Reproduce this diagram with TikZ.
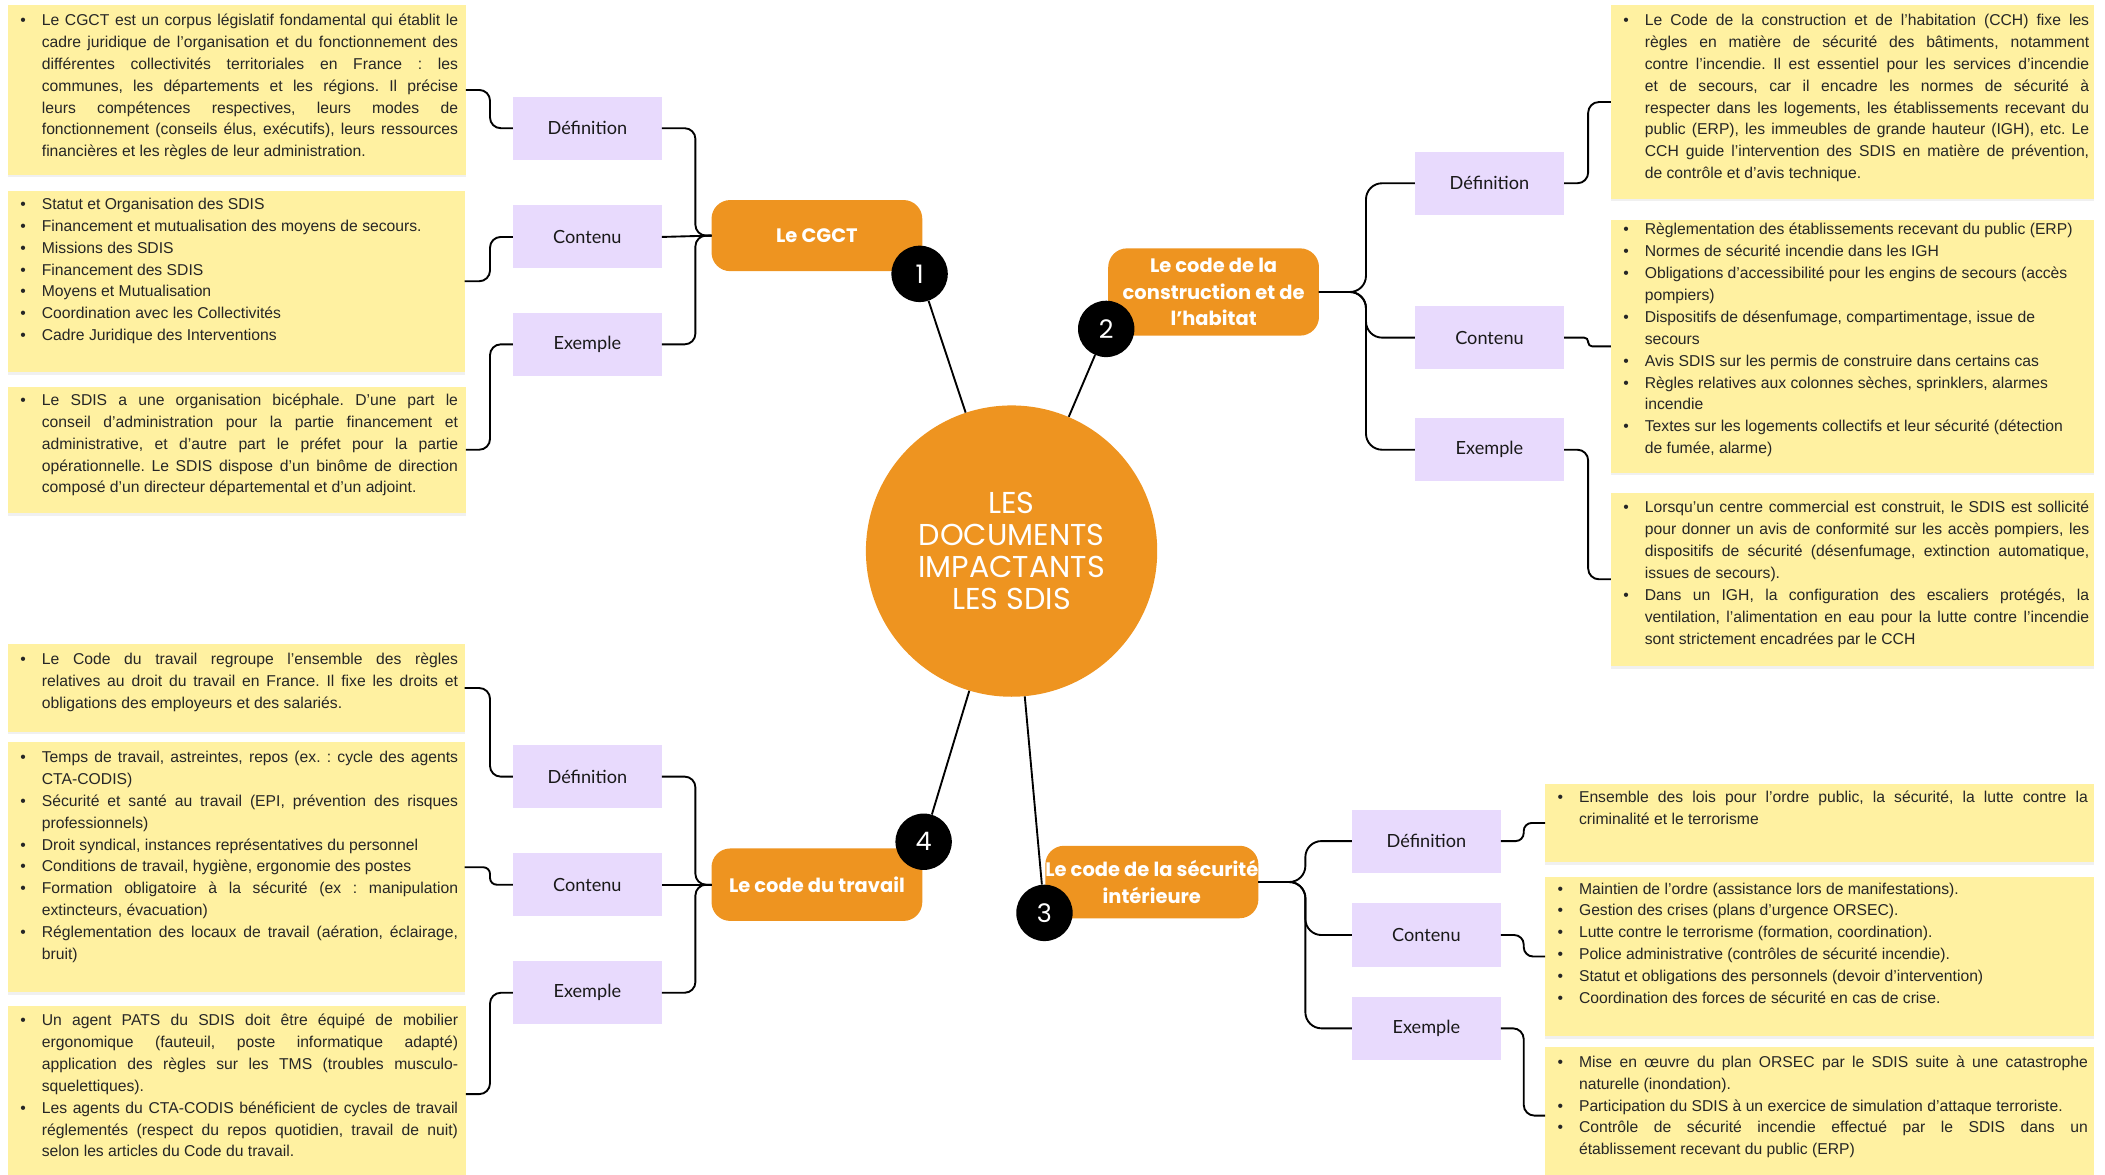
\documentclass[tikz,border=0pt]{standalone}
\usepackage{fontspec}
\setmainfont{Liberation Sans}
\newfontfamily\labfont{Lato}
\newfontfamily\titfont{Poppins}
\usetikzlibrary{shadows}
\definecolor{yfill}{RGB}{255,241,161}
\definecolor{pfill}{RGB}{232,218,253}
\definecolor{ofill}{RGB}{238,148,32}
\newcommand\bitem[1]{\par\hangindent=16pt\hangafter=1\noindent\makebox[16pt][l]{\textbullet}#1}
\newcommand\ytxt[2]{\parbox[t]{#1pt}{\fontsize{11.7pt}{16.3pt}\selectfont\frenchspacing\hyphenpenalty=10000\tolerance=10000 #2}}
\begin{document}
\begin{tikzpicture}[x=1pt,y=-1pt,
  conn/.style={draw=black, line width=1.4pt, rounded corners=#1},
  conn/.default=8pt,
  ybox/.style={fill=yfill, inner sep=0pt, outer sep=0pt, anchor=north west, drop shadow={shadow xshift=0pt, shadow yshift=-2pt, opacity=0.12}},
  ytext/.style={inner sep=0pt, anchor=base west, text=black!85},
  pbox/.style={fill=pfill, inner sep=0pt, outer sep=0pt, minimum width=111pt, minimum height=47pt, font=\labfont\fontsize{13.5pt}{16pt}\selectfont, text=black!90},
  obox/.style={fill=ofill, rounded corners=14pt, inner sep=0pt, outer sep=0pt, minimum width=157pt, align=center, text=white, font=\titfont\bfseries\fontsize{14.5pt}{19.5pt}\selectfont},
  num/.style={circle, fill=black, minimum size=42pt, inner sep=0pt, text=white, font=\titfont\fontsize{19pt}{20pt}\selectfont},
  spoke/.style={draw=black, line width=1.4pt}
]
\useasboundingbox (0,0) rectangle (1568,875);
\clip (0,0) rectangle (1568,875);

% central circle
\node[circle, fill=ofill, minimum size=217pt, inner sep=0pt, align=center, text=white, font=\titfont\fontsize{22.5pt}{24pt}\selectfont] (ctr) at (753.5,410.5) {LES\\DOCUMENTS\\IMPACTANTS\\LES SDIS};

% main branches
\node[obox, minimum height=53pt] (cgct) at (608.5,175.5) {Le CGCT};
\node[obox, minimum height=65pt] (cch) at (904,217.5) {Le code de la\\construction et de\\l’habitat};
\node[obox, minimum height=54pt] (secu) at (858,657) {Le code de la sécurité\\intérieure};
\node[obox, minimum height=54pt] (trav) at (608.5,659) {Le code du travail};

% numbers
\node[num] (n1) at (685,204) {1};
\node[num] (n2) at (824,245) {2};
\node[num] (n3) at (778,680) {3};
\node[num] (n4) at (688,627) {4};
\draw[spoke] (n1) -- (ctr);
\draw[spoke] (n2) -- (ctr);
\draw[spoke] (n3) -- (ctr);
\draw[spoke] (n4) -- (ctr);

% purple category boxes
\node[pbox] (gD) at (437.5,95.5) {Définition};
\node[pbox] (gC) at (437.5,176.5) {Contenu};
\node[pbox] (gE) at (437.5,256.5) {Exemple};
\node[pbox] (tD) at (437.5,578.5) {Définition};
\node[pbox] (tC) at (437.5,659) {Contenu};
\node[pbox] (tE) at (437.5,739.5) {Exemple};
\node[pbox] (hD) at (1109.5,136.5) {Définition};
\node[pbox] (hC) at (1109.5,251.5) {Contenu};
\node[pbox] (hE) at (1109.5,335) {Exemple};
\node[pbox] (sD) at (1062.5,626.5) {Définition};
\node[pbox] (sC) at (1062.5,696.5) {Contenu};
\node[pbox] (sE) at (1062.5,766) {Exemple};

% yellow boxes
\node[ybox, minimum width=341pt, minimum height=126pt] (gDy) at (6,4) {};
\node[ybox, minimum width=340pt, minimum height=135pt] (gCy) at (6,142) {};
\node[ybox, minimum width=341pt, minimum height=94pt] (gEy) at (6,288) {};
\node[ybox, minimum width=340pt, minimum height=65pt] (tDy) at (6,480) {};
\node[ybox, minimum width=340pt, minimum height=186pt] (tCy) at (6,553) {};
\node[ybox, minimum width=341pt, minimum height=132pt] (tEy) at (6,749) {};
\node[ybox, minimum width=360pt, minimum height=144pt] (hDy) at (1200,4) {};
\node[ybox, minimum width=360pt, minimum height=188pt] (hCy) at (1200,164) {};
\node[ybox, minimum width=360pt, minimum height=129pt] (hEy) at (1200,367) {};
\node[ybox, minimum width=409pt, minimum height=58pt] (sDy) at (1151,584) {};
\node[ybox, minimum width=409pt, minimum height=119pt] (sCy) at (1151,653) {};
\node[ybox, minimum width=409pt, minimum height=102pt] (sEy) at (1151,780) {};

% texts
\node[ytext] (gDt) at (15,19) {\ytxt{326}{\bitem{Le CGCT est un corpus législatif fondamental qui établit le\linebreak cadre juridique de l'organisation et du fonctionnement des\linebreak différentes collectivités territoriales en France : les\linebreak communes, les départements et les régions. Il précise\linebreak leurs compétences respectives, leurs modes de\linebreak fonctionnement (conseils élus, exécutifs), leurs ressources\linebreak financières et les règles de leur administration.}}};
\node[ytext] (gCt) at (15,156) {\ytxt{326}{\bitem{Statut et Organisation des SDIS}\bitem{Financement et mutualisation des moyens de secours.}\bitem{Missions des SDIS}\bitem{Financement des SDIS}\bitem{Moyens et Mutualisation}\bitem{Coordination avec les Collectivités}\bitem{Cadre Juridique des Interventions}}};
\node[ytext] (gEt) at (15,302) {\ytxt{326}{\bitem{Le SDIS a une organisation bicéphale. D’une part le\linebreak conseil d’administration pour la partie financement et\linebreak administrative, et d’autre part le préfet pour la partie\linebreak opérationnelle. Le SDIS dispose d’un binôme de direction\linebreak composé d’un directeur départemental et d’un adjoint.}}};
\node[ytext] (tDt) at (15,495) {\ytxt{326}{\bitem{Le Code du travail regroupe l’ensemble des règles\linebreak relatives au droit du travail en France. Il fixe les droits et\linebreak obligations des employeurs et des salariés.}}};
\node[ytext] (tCt) at (15,568) {\ytxt{326}{\bitem{Temps de travail, astreintes, repos (ex. : cycle des agents\linebreak CTA-CODIS)}\bitem{Sécurité et santé au travail (EPI, prévention des risques\linebreak professionnels)}\bitem{Droit syndical, instances représentatives du personnel}\bitem{Conditions de travail, hygiène, ergonomie des postes}\bitem{Formation obligatoire à la sécurité (ex : manipulation\linebreak extincteurs, évacuation)}\bitem{Réglementation des locaux de travail (aération, éclairage,\linebreak bruit)}}};
\node[ytext] (tEt) at (15,764) {\ytxt{326}{\bitem{Un agent PATS du SDIS doit être équipé de mobilier\linebreak ergonomique (fauteuil, poste informatique adapté)\linebreak application des règles sur les TMS (troubles musculo-\linebreak squelettiques).}\bitem{Les agents du CTA-CODIS bénéficient de cycles de travail\linebreak réglementés (respect du repos quotidien, travail de nuit)\linebreak selon les articles du Code du travail.}}};
\node[ytext] (hDt) at (1209,19) {\ytxt{347}{\bitem{Le Code de la construction et de l’habitation (CCH) fixe les\linebreak règles en matière de sécurité des bâtiments, notamment\linebreak contre l’incendie. Il est essentiel pour les services d’incendie\linebreak et de secours, car il encadre les normes de sécurité à\linebreak respecter dans les logements, les établissements recevant du\linebreak public (ERP), les immeubles de grande hauteur (IGH), etc. Le\linebreak CCH guide l’intervention des SDIS en matière de prévention,\linebreak de contrôle et d’avis technique.}}};
\node[ytext] (hCt) at (1209,175) {\ytxt{347}{\bitem{Règlementation des établissements recevant du public (ERP)}\bitem{Normes de sécurité incendie dans les IGH}\bitem{Obligations d’accessibilité pour les engins de secours (accès\newline pompiers)}\bitem{Dispositifs de désenfumage, compartimentage, issue de\newline secours}\bitem{Avis SDIS sur les permis de construire dans certains cas}\bitem{Règles relatives aux colonnes sèches, sprinklers, alarmes\newline incendie}\bitem{Textes sur les logements collectifs et leur sécurité (détection\newline de fumée, alarme)}}};
\node[ytext] (hEt) at (1209,382) {\ytxt{347}{\bitem{Lorsqu’un centre commercial est construit, le SDIS est sollicité\linebreak pour donner un avis de conformité sur les accès pompiers, les\linebreak dispositifs de sécurité (désenfumage, extinction automatique,\linebreak issues de secours).}\bitem{Dans un IGH, la configuration des escaliers protégés, la\linebreak ventilation, l’alimentation en eau pour la lutte contre l’incendie\linebreak sont strictement encadrées par le CCH}}};
\node[ytext] (sDt) at (1160,598) {\ytxt{395}{\bitem{Ensemble des lois pour l'ordre public, la sécurité, la lutte contre la\linebreak criminalité et le terrorisme}}};
\node[ytext] (sCt) at (1160,666) {\ytxt{395}{\bitem{Maintien de l'ordre (assistance lors de manifestations).}\bitem{Gestion des crises (plans d'urgence ORSEC).}\bitem{Lutte contre le terrorisme (formation, coordination).}\bitem{Police administrative (contrôles de sécurité incendie).}\bitem{Statut et obligations des personnels (devoir d'intervention)}\bitem{Coordination des forces de sécurité en cas de crise.}}};
\node[ytext] (sEt) at (1160,795) {\ytxt{395}{\bitem{Mise en œuvre du plan ORSEC par le SDIS suite à une catastrophe\linebreak naturelle (inondation).}\bitem{Participation du SDIS à un exercice de simulation d'attaque terroriste.}\bitem{Contrôle de sécurité incendie effectué par le SDIS dans un\linebreak établissement recevant du public (ERP)}}};

% branch braces: purple -> orange
\draw[conn] (gD.east) -| ([xshift=-12pt]cgct.west) -- (cgct.west);
\draw[conn] (gC.east) -- (cgct.west);
\draw[conn] (gE.east) -| ([xshift=-12pt]cgct.west) -- (cgct.west);
\draw[conn] (tD.east) -| ([xshift=-12pt]trav.west) -- (trav.west);
\draw[conn] (tC.east) -- (trav.west);
\draw[conn] (tE.east) -| ([xshift=-12pt]trav.west) -- (trav.west);
\draw[conn=12pt] (hD.west) -| ([xshift=35pt]cch.east) -- (cch.east);
\draw[conn=12pt] (hC.west) -| ([xshift=35pt]cch.east) -- (cch.east);
\draw[conn=12pt] (hE.west) -| ([xshift=35pt]cch.east) -- (cch.east);
\draw[conn=12pt] (sD.west) -| ([xshift=35pt]secu.east) -- (secu.east);
\draw[conn=12pt] (sC.west) -| ([xshift=35pt]secu.east) -- (secu.east);
\draw[conn=12pt] (sE.west) -| ([xshift=35pt]secu.east) -- (secu.east);

% yellow -> purple
\draw[conn] (gDy.east) -| ([xshift=-17pt]gD.west) -- (gD.west);
\draw[conn] (gCy.east) -| ([xshift=-17pt]gC.west) -- (gC.west);
\draw[conn] (gEy.east) -| ([xshift=-17pt]gE.west) -- (gE.west);
\draw[conn] (tDy.east) -| ([xshift=-17pt]tD.west) -- (tD.west);
\draw[conn=5pt] (tCy.east) -| ([xshift=-17pt]tC.west) -- (tC.west);
\draw[conn] (tEy.east) -| ([xshift=-17pt]tE.west) -- (tE.west);
\draw[conn] (hD.east) -| ([xshift=-17pt]hDy.west) -- (hDy.west);
\draw[conn=3pt] (hC.east) -| ([xshift=-17pt]hCy.west) -- (hCy.west);
\draw[conn] (hE.east) -| ([xshift=-17pt]hEy.west) -- (hEy.west);
\draw[conn=6pt] (sD.east) -| ([xshift=-16pt]sDy.west) -- (sDy.west);
\draw[conn=7pt] (sC.east) -| ([xshift=-16pt]sCy.west) -- (sCy.west);
\draw[conn] (sE.east) -| ([xshift=-16pt]sEy.west) -- (sEy.west);
\end{tikzpicture}
\end{document}
